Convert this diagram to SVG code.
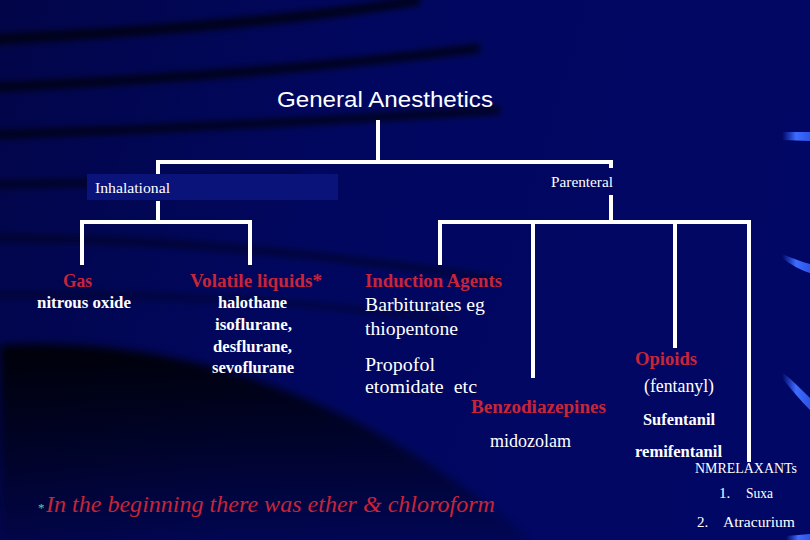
<svg xmlns="http://www.w3.org/2000/svg" width="810" height="540" viewBox="0 0 810 540">
<defs>
<linearGradient id="bg" x1="0" y1="0" x2="1" y2="0.2">
<stop offset="0" stop-color="#020548"/>
<stop offset="0.45" stop-color="#01075f"/>
<stop offset="1" stop-color="#010764"/>
</linearGradient>
<linearGradient id="dark" x1="0" y1="0" x2="0" y2="1">
<stop offset="0" stop-color="#000000" stop-opacity="0.9"/>
<stop offset="0.5" stop-color="#000000" stop-opacity="0.55"/>
<stop offset="1" stop-color="#000000" stop-opacity="0.15"/>
</linearGradient>
<linearGradient id="streak" x1="0" y1="0" x2="1" y2="0">
<stop offset="0" stop-color="#2f5cff" stop-opacity="0"/>
<stop offset="0.5" stop-color="#3d6cff"/>
<stop offset="1" stop-color="#2c55e8"/>
</linearGradient>
<filter id="blur" x="-20%" y="-50%" width="140%" height="200%"><feGaussianBlur stdDeviation="3.5"/></filter>
<filter id="blur2" x="-20%" y="-20%" width="140%" height="140%"><feGaussianBlur stdDeviation="4"/></filter>
<style>
.line{stroke:#ffffff;stroke-width:4;fill:none;stroke-linecap:butt}
.ser{font-family:"Liberation Serif","Times New Roman",serif}
.head{fill:#c8243a;font-size:18px;font-weight:bold}
.wb{fill:#ffffff;font-weight:bold;font-size:16px}
.wr{fill:#ffffff;font-size:18px}
.small{fill:#ffffff;font-size:15px}
</style>
</defs>

<g id="background">
<rect width="810" height="540" fill="url(#bg)"/>
<g fill="none" stroke="#000000" filter="url(#blur)" stroke-opacity="0.8">
<path d="M-20 40 C 150 32 300 20 420 0" stroke-width="9"/>
<path d="M-20 88 C 150 80 300 70 480 48" stroke-width="8"/>
<path d="M-20 135 C 150 130 300 122 500 110" stroke-width="7"/>
<path d="M-20 185 C 100 182 200 180 300 178" stroke-width="7" stroke-opacity="0.6"/>
<path d="M-20 238 C 150 238 300 250 500 280" stroke-width="7" stroke-opacity="0.45"/>
<path d="M-20 295 C 150 292 300 300 450 320" stroke-width="6" stroke-opacity="0.35"/>
</g>
<path d="M0 345 C 200 335 380 410 530 540 L0 540 Z" fill="url(#dark)" filter="url(#blur2)"/>
<path d="M782 132 L810 132 L810 141 L782 140 Z" fill="url(#streak)"/>
<path d="M782 254 C 792 258 802 262 810 264 L810 273 C 800 270 790 264 782 258 Z" fill="url(#streak)"/>
<path d="M782 372 C 792 380 802 390 810 398 L810 410 C 800 400 790 388 782 378 Z" fill="url(#streak)"/>
<path d="M786 536 L810 534 L810 540 L786 540 Z" fill="url(#streak)"/>
</g>

<g id="connectors">
<path class="line" d="M378 120 V162"/>
<path class="line" d="M156 162 H613"/>
<path class="line" d="M158 160 V174"/>
<path class="line" d="M158 201 V222 M80 222 H252 M82 220 V265 M250 220 V265"/>
<path class="line" d="M611 160 V168 M611 195 V222 M438 222 H751"/>
<path class="line" d="M440 220 V265"/>
<path class="line" d="M533 220 V378"/>
<path class="line" d="M675 220 V348"/>
<path class="line" d="M749 220 V462"/>
</g>

<g id="title">
<text x="277" y="107" font-family="Liberation Sans, Arial, sans-serif" font-size="22" fill="#ffffff" textLength="216" lengthAdjust="spacingAndGlyphs">General Anesthetics</text>
</g>

<g id="inhalational">
<rect x="87" y="174" width="251" height="26" fill="#09137a"/>
<text class="ser small" x="95" y="193" textLength="75" lengthAdjust="spacingAndGlyphs">Inhalational</text>
</g>

<g id="parenteral">
<text class="ser small" x="551" y="187" textLength="62" lengthAdjust="spacingAndGlyphs">Parenteral</text>
</g>

<g id="gas">
<text class="ser head" x="63" y="287" textLength="29" lengthAdjust="spacingAndGlyphs">Gas</text>
<text class="ser wb" x="37" y="308" textLength="94" lengthAdjust="spacingAndGlyphs">nitrous oxide</text>
</g>

<g id="volatile">
<text class="ser head" x="190" y="287" textLength="132" lengthAdjust="spacingAndGlyphs">Volatile liquids*</text>
<text class="ser wb" x="218" y="308" textLength="69" lengthAdjust="spacingAndGlyphs">halothane</text>
<text class="ser wb" x="215" y="330" textLength="77" lengthAdjust="spacingAndGlyphs">isoflurane,</text>
<text class="ser wb" x="213" y="352" textLength="79" lengthAdjust="spacingAndGlyphs">desflurane,</text>
<text class="ser wb" x="212" y="373" textLength="82" lengthAdjust="spacingAndGlyphs">sevoflurane</text>
</g>

<g id="induction">
<text class="ser head" x="365" y="287" textLength="137" lengthAdjust="spacingAndGlyphs">Induction Agents</text>
<text class="ser wr" x="365" y="311" textLength="120" lengthAdjust="spacingAndGlyphs">Barbiturates eg</text>
<text class="ser wr" x="365" y="335" textLength="93" lengthAdjust="spacingAndGlyphs">thiopentone</text>
<text class="ser wr" x="365" y="371" textLength="70" lengthAdjust="spacingAndGlyphs">Propofol</text>
<text class="ser wr" x="365" y="393" textLength="112" lengthAdjust="spacingAndGlyphs" xml:space="preserve">etomidate  etc</text>
</g>

<g id="benzodiazepines">
<text class="ser head" x="471" y="413" font-weight="normal" textLength="135" lengthAdjust="spacingAndGlyphs">Benzodiazepines</text>
<text class="ser wr" x="490" y="447" textLength="81" lengthAdjust="spacingAndGlyphs">midozolam</text>
</g>

<g id="opioids">
<text class="ser head" x="635" y="365" font-weight="normal" textLength="62" lengthAdjust="spacingAndGlyphs">Opioids</text>
<text class="ser wr" x="644" y="392" font-size="17" textLength="70" lengthAdjust="spacingAndGlyphs">(fentanyl)</text>
<text class="ser wb" x="643" y="425" textLength="72" lengthAdjust="spacingAndGlyphs">Sufentanil</text>
<text class="ser wb" x="635" y="457" textLength="87" lengthAdjust="spacingAndGlyphs">remifentanil</text>
</g>

<g id="nmrelaxants">
<text class="ser small" x="695" y="473" textLength="102" lengthAdjust="spacingAndGlyphs">NMRELAXANTs</text>
<text class="ser small" x="719" y="498">1.</text>
<text class="ser small" x="746" y="498" textLength="27" lengthAdjust="spacingAndGlyphs">Suxa</text>
<text class="ser small" x="697" y="527">2.</text>
<text class="ser small" x="723" y="527" textLength="72" lengthAdjust="spacingAndGlyphs">Atracurium</text>
<text class="ser small" x="744" y="551">Cisat</text>
</g>

<g id="footnote">
<text class="ser" x="38" y="512" font-size="13" fill="#5fd0a0">*</text>
<text class="ser" x="46" y="512" font-size="23" font-style="italic" fill="#c8243a" textLength="449" lengthAdjust="spacingAndGlyphs">In the beginning there was ether &amp; chloroform</text>
</g>
</svg>
